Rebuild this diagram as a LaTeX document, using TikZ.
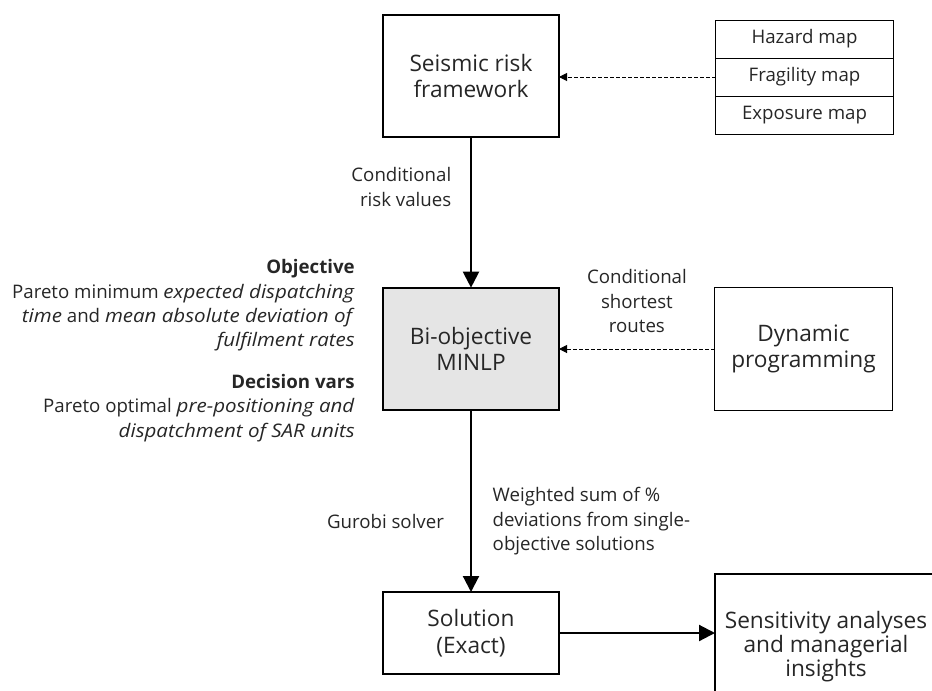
\documentclass[tikz,border=0pt]{standalone}
\usepackage{fontspec}
\setmainfont{Open Sans}[ItalicFeatures={FakeStretch=1.1}]
\usetikzlibrary{arrows.meta,positioning}

\begin{document}
\begin{tikzpicture}[x=0.75pt,y=-0.75pt,
  every node/.style={text=black!85},
  box/.style={draw,line width=1.6pt,align=center,inner sep=0pt,outer sep=0pt,font=\fontsize{17}{20}\selectfont},
  mapbox/.style={draw,line width=0.75pt,minimum width=133pt,minimum height=28.5pt,inner sep=0pt,outer sep=0pt,font=\fontsize{14}{17}\selectfont},
  note/.style={font=\fontsize{14}{18.3}\selectfont,inner sep=0pt},
  flow/.style={line width=1.6pt,-{Triangle[width=12pt,length=12pt]}},
  feed/.style={line width=0.75pt,dash pattern=on 3pt off 1.5pt,-{Triangle[width=6pt,length=6pt]}}]
  \useasboundingbox (0,0) rectangle (932,690);
  \clip (0,0) rectangle (932,690);

  \node[box,minimum width=132pt,minimum height=92pt] (seismic) at (471,76) {Seismic risk\\framework};
  \node[mapbox] (maps-1) at (804.5,39) {Hazard map};
  \node[mapbox,below=0pt of maps-1] (maps-2) {Fragility map};
  \node[mapbox,below=0pt of maps-2] (maps-3) {Exposure map};

  \node[box,fill=black!10,minimum width=132pt,minimum height=92pt] (biobj) at (471,349) {Bi-objective\\MINLP};
  \node[box,line width=0.75pt,minimum width=133pt,minimum height=92pt] (dynprog) at (803.5,349) {Dynamic\\programming};

  \node[box,minimum width=132pt,minimum height=61.5pt] (solution) at (471,633) {Solution\\(Exact)};
  \node[box,minimum width=166.5pt,minimum height=105pt,font=\fontsize{17}{15}\selectfont,text depth=0pt] (insights) at (826,644) {Sensitivity analyses\\and managerial\\insights};

  \node[note,anchor=east,align=right] (objective) at (355,305.5)
    {\textbf{Objective}\\Pareto minimum \textit{expected dispatching}\\\textit{time} and \textit{mean absolute deviation of}\\\textit{fulfilment rates}};
  \node[note,anchor=east,align=right] (decision) at (355,408)
    {\textbf{Decision vars}\\Pareto optimal \textit{pre-positioning and}\\\textit{dispatchment of SAR units}};

  \path[feed] (maps-2.west) edge (maps-2.west -| seismic.east)
    (dynprog) edge node[note,pos=.5,yshift=36pt,align=center] {Conditional\\shortest\\routes} (biobj);
  \path[flow]
    (seismic) edge node[note,pos=.33,anchor=east,xshift=-14pt,align=right] {Conditional\\risk values} (biobj)
    (biobj) edge node[note,pos=.61,anchor=east,xshift=-19.5pt] {Gurobi solver}
      node[note,pos=.61,anchor=west,xshift=15.5pt,align=left] {Weighted sum of \%\\deviations from single-\\objective solutions} (solution)
    (solution.east) edge (solution.east -| insights.west);
\end{tikzpicture}
\end{document}
